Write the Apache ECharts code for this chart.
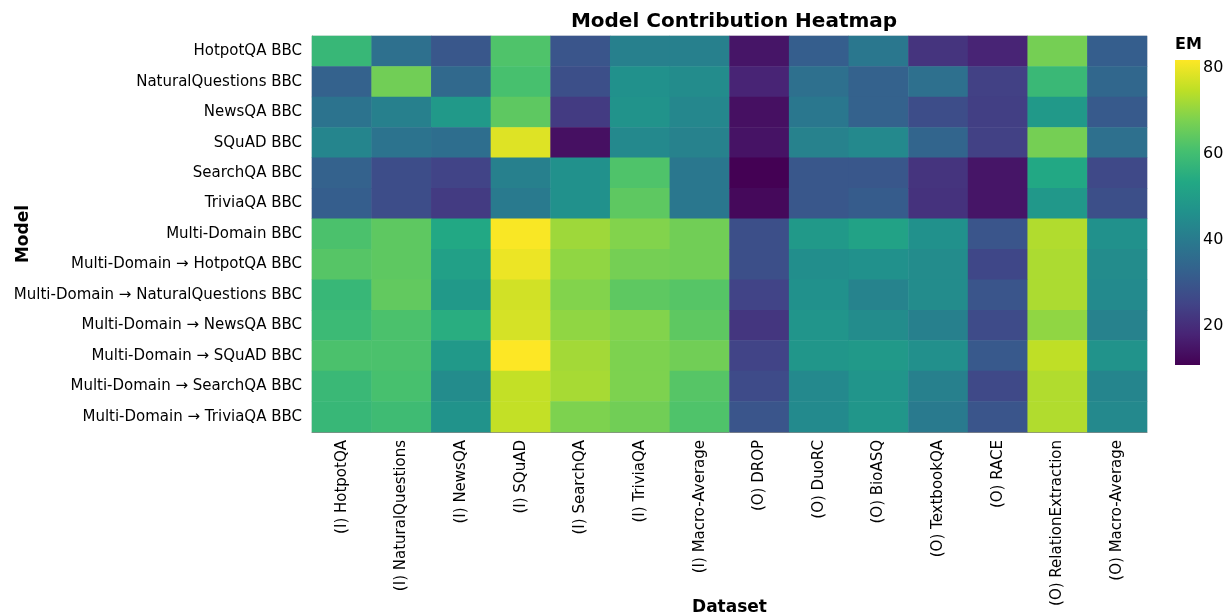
<!DOCTYPE html>
<html>
<head>
<meta charset="utf-8">
<script src="https://cdn.jsdelivr.net/npm/echarts@6/dist/echarts.min.js"></script>
<style>
  html, body { margin: 0; padding: 0; background: #fff; }
  #main { width: 1225px; height: 615px; }
</style>
</head>
<body>
<div id="main"></div>
<script>
const models = [
  'HotpotQA BBC', 'NaturalQuestions BBC', 'NewsQA BBC', 'SQuAD BBC', 'SearchQA BBC', 'TriviaQA BBC',
  'Multi-Domain BBC', 'Multi-Domain → HotpotQA BBC', 'Multi-Domain → NaturalQuestions BBC',
  'Multi-Domain → NewsQA BBC', 'Multi-Domain → SQuAD BBC', 'Multi-Domain → SearchQA BBC',
  'Multi-Domain → TriviaQA BBC'
]
const datasets = [
  '(I) HotpotQA', '(I) NaturalQuestions', '(I) NewsQA', '(I) SQuAD', '(I) SearchQA', '(I) TriviaQA',
  '(I) Macro-Average', '(O) DROP', '(O) DuoRC', '(O) BioASQ', '(O) TextbookQA', '(O) RACE',
  '(O) RelationExtraction', '(O) Macro-Average'
]

// EM per model row, in dataset order
const hotpotBBC   = [58, 37, 30, 62, 29.5, 41.5, 41.5, 15, 32, 39, 21.5, 18, 67, 32]
const nqBBC       = [33, 66.5, 35, 61, 28, 46.5, 45, 18, 37, 33, 37, 24.5, 58.5, 34.5]
const newsBBC     = [38, 41.5, 49, 64, 23, 47, 43.5, 14, 39, 33, 27.5, 24, 49, 31]
const squadBBC    = [43, 38, 36.5, 78.5, 14, 44, 42, 14.5, 42, 44, 34, 24.5, 67, 37]
const searchBBC   = [33, 27.5, 25, 41.5, 46.5, 62, 39, 11, 30, 30, 21.5, 15, 53.5, 26.5]
const triviaBBC   = [32, 27.5, 23, 40, 46.5, 64, 39, 12.5, 30, 31.5, 21, 15, 48.5, 28]
const mdBBC       = [61.5, 64, 53.5, 81.5, 71.5, 68.5, 66.5, 28, 49, 51.5, 46.5, 29.5, 73.5, 46.5]
const mdHotpot    = [63, 64, 51, 80, 70, 67, 66.5, 28, 45.5, 46.5, 45, 26, 73, 45]
const mdNQ        = [58, 64.5, 49, 77, 68.5, 64, 63, 25, 46.5, 42.5, 45, 29.5, 73, 44.5]
const mdNews      = [59, 61.5, 55, 77.5, 70, 68.5, 64, 22, 47.5, 45, 41.5, 27, 70, 42]
const mdSquad     = [61.5, 61.5, 49, 82, 72, 68, 66.5, 25, 48, 49, 46, 30.5, 75, 47]
const mdSearch    = [58.5, 61, 45, 75.5, 72.5, 68, 63, 27, 44, 47.5, 41.5, 26.5, 73.5, 43]
const mdTrivia    = [58, 59.5, 47, 75.5, 68, 66.5, 62, 29.5, 44.5, 48, 40, 29.5, 73.5, 44]

const emRows = [hotpotBBC, nqBBC, newsBBC, squadBBC, searchBBC, triviaBBC,
  mdBBC, mdHotpot, mdNQ, mdNews, mdSquad, mdSearch, mdTrivia]

const legendTicks = [20, 40, 60, 80]
const emMin = 10.9
const emMax = 81.9

const viridis = ['#440154', '#482475', '#414487', '#355f8d', '#2a788e', '#21918c',
  '#22a884', '#44bf70', '#7ad151', '#bddf26', '#fde725']

let cells = []
emRows.forEach((row, r) => {
  row.forEach((v, c) => cells.push([c, r, v]))
})

const font = 'DejaVu Sans'
const chart = echarts.init(document.getElementById('main'))

chart.setOption({
  animation: false,
  textStyle: {fontFamily: font},
  title: {
    text: 'Model Contribution Heatmap',
    left: 729, top: 7, textAlign: 'center',
    textStyle: {fontSize: 20, fontWeight: 'bold', color: '#000', fontFamily: font}
  },
  grid: [
    {left: 312, top: 36, right: 78, bottom: 183, show: true, borderColor: '#ddd', borderWidth: 1,
      containLabel: false, outerBoundsMode: 'none'},
    {left: 1175, top: 60, width: 25, height: 305, containLabel: false, outerBoundsMode: 'none'}
  ],
  xAxis: [{
    type: 'category', data: datasets, gridIndex: 0,
    name: 'Dataset', nameLocation: 'middle', nameGap: 167, nameMoveOverlap: false,
    nameTextStyle: {fontSize: 17, fontWeight: 'bold', color: '#000'},
    axisLine: {lineStyle: {color: '#888'}},
    axisTick: {alignWithLabel: true, length: 5, lineStyle: {color: '#888'}},
    axisLabel: {rotate: 90, fontSize: 15, color: '#000', margin: 8},
    splitArea: {show: false}
  }, {
    type: 'value', gridIndex: 1, show: false
  }],
  yAxis: [{
    type: 'category', data: models, inverse: true, gridIndex: 0,
    name: 'Model', nameLocation: 'middle', nameGap: 280, nameRotate: 90, nameMoveOverlap: false,
    nameTextStyle: {fontSize: 17, fontWeight: 'bold', color: '#000'},
    axisLine: {lineStyle: {color: '#888'}},
    axisTick: {alignWithLabel: true, length: 5, lineStyle: {color: '#888'}},
    axisLabel: {fontSize: 15, color: '#000', margin: 10}
  }, {
    type: 'value', gridIndex: 1, position: 'right', min: emMin, max: emMax,
    axisLine: {show: false},
    axisTick: {show: false},
    splitLine: {show: false},
    axisLabel: {customValues: legendTicks, fontSize: 16, color: '#000', margin: 3}
  }],
  visualMap: {
    show: false, min: emMin, max: emMax, dimension: 2, seriesIndex: 0,
    inRange: {color: viridis}
  },
  graphic: [
    {
      type: 'rect', left: 1175, top: 60,
      shape: {width: 25, height: 305},
      style: {
        fill: new echarts.graphic.LinearGradient(0, 1, 0, 0,
          viridis.map((c, i) => ({offset: i / (viridis.length - 1), color: c})))
      }
    },
    {
      type: 'text', left: 1175, top: 37,
      style: {text: 'EM', font: 'bold 16px "DejaVu Sans"', fill: '#000'}
    }
  ],
  series: [{
    type: 'heatmap', data: cells, xAxisIndex: 0, yAxisIndex: 0,
    itemStyle: {borderWidth: 0}
  }]
})
</script>
</body>
</html>
